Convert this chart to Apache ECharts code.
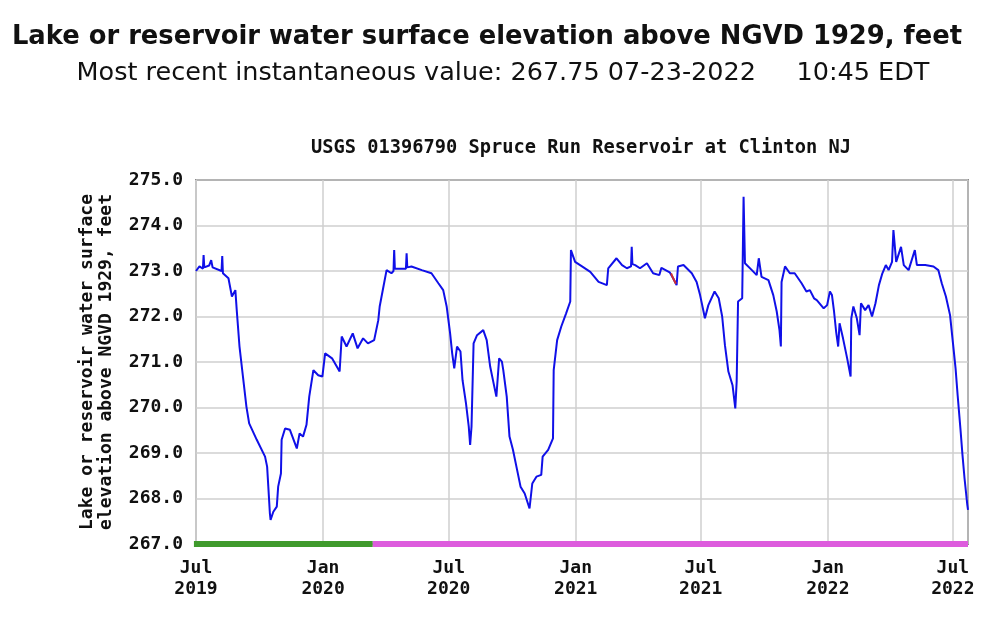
<!DOCTYPE html>
<html>
<head>
<meta charset="utf-8">
<script src="https://cdn.jsdelivr.net/npm/echarts@6/dist/echarts.min.js"></script>
<style>
html,body{margin:0;padding:0;background:#fff;}
#chart{width:1000px;height:624px;}
</style>
</head>
<body>
<div id="chart"></div>
<script>
// ---- data ----
const dates = [
'2019-07-01','2019-07-06','2019-07-11','2019-07-12','2019-07-13','2019-07-20','2019-07-23','2019-07-25',
'2019-08-07','2019-08-08','2019-08-09','2019-08-17','2019-08-22','2019-08-27','2019-08-29',
'2019-09-02','2019-09-07','2019-09-12','2019-09-16','2019-09-27','2019-10-09','2019-10-12','2019-10-14',
'2019-10-16','2019-10-17','2019-10-21','2019-10-26','2019-10-28','2019-11-01','2019-11-02','2019-11-07',
'2019-11-14','2019-11-24','2019-11-28','2019-12-03','2019-12-08','2019-12-12','2019-12-18','2019-12-25',
'2019-12-31','2020-01-04','2020-01-14','2020-01-25','2020-01-28','2020-02-04','2020-02-13','2020-02-20',
'2020-02-28','2020-03-06','2020-03-15','2020-03-21','2020-03-23','2020-03-28','2020-04-02','2020-04-09',
'2020-04-12','2020-04-13','2020-04-14','2020-04-16','2020-04-30','2020-05-01','2020-05-02','2020-05-08',
'2020-05-23','2020-06-06','2020-06-16','2020-06-23','2020-06-28','2020-07-03','2020-07-06','2020-07-09',
'2020-07-13','2020-07-18','2020-07-21','2020-07-26','2020-07-30','2020-08-01','2020-08-03','2020-08-06',
'2020-08-11','2020-08-20','2020-08-25','2020-08-30','2020-09-04','2020-09-08','2020-09-12','2020-09-16',
'2020-09-18','2020-09-23','2020-09-27','2020-10-02','2020-10-08','2020-10-13','2020-10-19','2020-10-26',
'2020-10-30','2020-11-05','2020-11-12','2020-11-14','2020-11-22','2020-11-29','2020-11-30','2020-12-05',
'2020-12-11','2020-12-18','2020-12-24','2020-12-25','2020-12-31','2021-01-10','2021-01-22','2021-02-03',
'2021-02-15','2021-02-17','2021-03-01','2021-03-09','2021-03-16','2021-03-22','2021-03-23','2021-03-24',
'2021-03-28','2021-04-04','2021-04-14','2021-04-23','2021-05-02','2021-05-05','2021-05-17','2021-05-22',
'2021-05-27','2021-05-29','2021-06-06','2021-06-18','2021-06-25','2021-06-30','2021-07-05','2021-07-07',
'2021-07-12','2021-07-21','2021-07-27','2021-08-01','2021-08-05','2021-08-10','2021-08-16','2021-08-20',
'2021-08-22','2021-08-24','2021-08-30','2021-09-01','2021-09-03','2021-09-13','2021-09-20','2021-09-23',
'2021-09-27','2021-10-07','2021-10-14','2021-10-19','2021-10-23','2021-10-25','2021-10-26','2021-10-31',
'2021-11-07','2021-11-14','2021-11-24','2021-12-01','2021-12-06','2021-12-12','2021-12-16','2021-12-26',
'2021-12-31','2022-01-04','2022-01-07','2022-01-10','2022-01-13','2022-01-16','2022-01-18','2022-01-23',
'2022-01-29','2022-02-03','2022-02-04','2022-02-07','2022-02-12','2022-02-16','2022-02-18','2022-02-24',
'2022-03-01','2022-03-06','2022-03-11','2022-03-16','2022-03-21','2022-03-26','2022-03-30','2022-04-04',
'2022-04-06','2022-04-10','2022-04-17','2022-04-21','2022-04-28','2022-05-07','2022-05-10','2022-05-22',
'2022-06-03','2022-06-10','2022-06-15','2022-06-21','2022-06-27','2022-07-01','2022-07-05','2022-07-08',
'2022-07-12','2022-07-15','2022-07-18','2022-07-22','2022-07-23'
];
const elevation = [
273.00,273.10,273.05,273.35,273.08,273.12,273.24,273.08,
273.00,273.33,272.95,272.84,272.44,272.58,272.14,
271.34,270.68,270.02,269.65,269.29,268.92,268.70,268.19,
267.67,267.53,267.71,267.82,268.26,268.55,269.29,269.54,
269.51,269.10,269.43,269.36,269.62,270.24,270.82,270.71,
270.68,271.19,271.08,270.79,271.56,271.34,271.63,271.30,
271.52,271.41,271.48,271.92,272.22,272.62,273.02,272.95,
273.00,273.46,273.05,273.06,273.05,273.39,273.08,273.10,
273.02,272.95,272.73,272.58,272.22,271.63,271.19,270.86,
271.34,271.23,270.60,270.09,269.58,269.18,269.58,271.41,
271.59,271.70,271.48,270.90,270.53,270.24,271.08,271.01,
270.82,270.24,269.36,269.07,268.63,268.26,268.11,267.78,
268.33,268.48,268.52,268.92,269.07,269.32,270.82,271.48,
271.78,272.07,272.33,273.46,273.20,273.10,272.98,272.76,
272.69,273.06,273.28,273.13,273.06,273.10,273.53,273.15,
273.13,273.06,273.17,272.95,272.91,273.07,272.97,272.84,
272.69,273.10,273.13,272.95,272.76,272.47,272.11,271.96,
272.25,272.55,272.40,272.00,271.37,270.79,270.49,269.98,
270.57,272.33,272.40,274.63,273.17,273.02,272.91,273.28,
272.87,272.80,272.47,272.11,271.70,271.34,272.76,273.10,
272.95,272.95,272.73,272.55,272.58,272.40,272.36,272.18,
272.25,272.55,272.47,272.11,271.67,271.34,271.85,271.52,
271.08,270.68,271.96,272.22,271.96,271.59,272.29,272.14,
272.25,272.00,272.29,272.69,272.95,273.13,273.02,273.20,
273.90,273.20,273.53,273.13,273.02,273.46,273.13,273.13,
273.10,273.02,272.73,272.44,272.03,271.45,270.86,270.27,
269.54,268.96,268.44,267.86,267.75
];
// small red-marked segment
const flagDates = ['2021-05-19','2021-05-22','2021-05-26'];
const flagValues = [272.95,272.84,272.72];
// data-status bars along the bottom (approved / provisional)
const approvedDates = ['2019-06-28','2020-03-13'];
const provisionalDates = ['2020-03-13','2022-07-23'];
const statusLevel = 267.0;

const axisStart = '2019-07-01';
const axisEnd = '2022-07-23';
const yMin = 267, yMax = 275, yStep = 1;
const monthNames = ['Jan','Feb','Mar','Apr','May','Jun','Jul','Aug','Sep','Oct','Nov','Dec'];

const mainTitle = 'Lake or reservoir water surface elevation above NGVD 1929, feet';
const subTitle = 'Most recent instantaneous value: 267.75 07-23-2022\u00a0\u00a0\u00a0\u00a0\u00a010:45 EDT';
const chartTitle = 'USGS 01396790 Spruce Run Reservoir at Clinton NJ';
const yName = 'Lake or reservoir water surface\nelevation above NGVD 1929, feet';

// ---- chart ----
const pair = (d, v) => d.map((t, i) => [t, v[i]]);
const mono = 'DejaVu Sans Mono';
const chart = echarts.init(document.getElementById('chart'), null, {renderer: 'canvas'});
chart.setOption({
  animation: false,
  backgroundColor: '#ffffff',
  grid: {left: 196, right: 32, top: 180, bottom: 80, show: true, borderColor: '#333', borderWidth: 1.5, backgroundColor: 'transparent'},
  graphic: [
    {type: 'text', style: {x: 487, y: 37, text: mainTitle, textAlign: 'center', textVerticalAlign: 'middle', font: 'bold 25.8px "DejaVu Sans"', fill: '#111'}},
    {type: 'text', style: {x: 503, y: 73, text: subTitle, textAlign: 'center', textVerticalAlign: 'middle', font: '25.5px "DejaVu Sans"', fill: '#111'}},
    {type: 'text', style: {x: 581, y: 148, text: chartTitle, textAlign: 'center', textVerticalAlign: 'middle', font: 'bold 18.7px "DejaVu Sans Mono"', fill: '#111'}}
  ],
  xAxis: {
    type: 'time',
    min: axisStart,
    max: axisEnd,
    minInterval: 3600 * 24 * 1000 * 170,
    maxInterval: 3600 * 24 * 1000 * 190,
    axisLine: {show: false},
    axisTick: {show: false},
    splitLine: {show: true, lineStyle: {color: '#cfcfcf', width: 1.5}},
    axisLabel: {
      margin: 14,
      showMaxLabel: false,
      color: '#111',
      fontFamily: mono,
      fontWeight: 'bold',
      fontSize: 18,
      lineHeight: 21,
      formatter: function (val) {
        const d = new Date(val);
        return monthNames[d.getMonth()] + '\n' + d.getFullYear();
      }
    }
  },
  yAxis: {
    type: 'value',
    min: yMin,
    max: yMax,
    interval: yStep,
    name: yName,
    nameLocation: 'middle',
    nameGap: 80,
    nameRotate: 90,
    nameTextStyle: {fontFamily: mono, fontWeight: 'bold', fontSize: 18, color: '#111', lineHeight: 19},
    axisLine: {show: false},
    axisTick: {show: false},
    splitLine: {show: true, lineStyle: {color: '#cfcfcf', width: 1.5}},
    axisLabel: {
      margin: 13,
      color: '#111',
      fontFamily: mono,
      fontWeight: 'bold',
      fontSize: 18,
      formatter: v => v.toFixed(1)
    }
  },
  series: [
    {type: 'line', data: pair(dates, elevation), showSymbol: false, symbol: 'none',
     lineStyle: {color: '#1010e8', width: 2}, z: 3},
    {type: 'line', data: pair(flagDates, flagValues), showSymbol: false, symbol: 'none',
     lineStyle: {color: '#d03030', width: 2}, z: 4},
    {type: 'line', data: approvedDates.map(d => [d, statusLevel]), showSymbol: false, symbol: 'none', clip: false,
     lineStyle: {color: '#3f9a2c', width: 6, cap: 'butt'}, z: 5},
    {type: 'line', data: provisionalDates.map(d => [d, statusLevel]), showSymbol: false, symbol: 'none', clip: false,
     lineStyle: {color: '#dd5cdd', width: 6, cap: 'butt'}, z: 5}
  ]
});
</script>
</body>
</html>
